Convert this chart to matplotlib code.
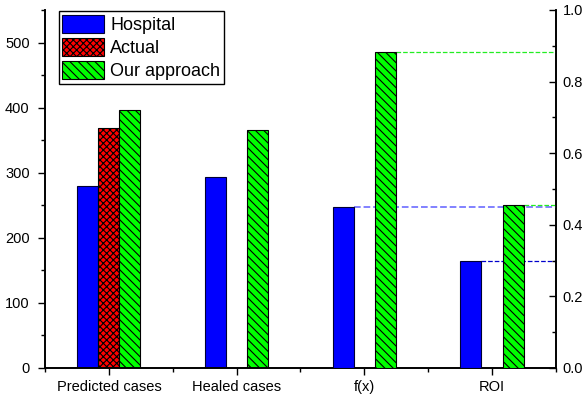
import numpy as np
import matplotlib.pyplot as plt
from matplotlib.ticker import MultipleLocator

plt.rcParams['font.family'] = ['Liberation Sans', 'DejaVu Sans']
plt.rcParams['hatch.linewidth'] = 0.8

categories = ['Predicted cases', 'Healed cases', 'f(x)', 'ROI']

# case counts (left axis)
hospital_cases = [280, 294]
actual_cases = [369]
approach_cases = [397, 366]

# ratio metrics (right axis)
hospital_ratio = [0.451, 0.299]
approach_ratio = [0.883, 0.455]

w = 0.165
x = np.arange(len(categories))

fig, ax = plt.subplots(figsize=(5.87, 3.99), dpi=100)
fig.subplots_adjust(left=0.0767, right=0.947, bottom=0.0777, top=0.975)
ax2 = ax.twinx()

# left axis bars
h1 = ax.bar(x[:2] - w, hospital_cases, w, color='#0000ff', edgecolor='#000033', linewidth=0.8)
h2 = ax.bar(x[:1], actual_cases, w, color='#ff0000', edgecolor='black', linewidth=0.8, hatch='xxxxx')
h3 = ax.bar(x[:2] + w, approach_cases, w, color='#00ff00', edgecolor='black', linewidth=0.8, hatch='\\\\\\\\')

# right axis bars
ax2.bar(x[2:] - w, hospital_ratio, w, color='#0000ff', edgecolor='#000033', linewidth=0.8, zorder=3)
ax2.bar(x[2:] + w, approach_ratio, w, color='#00ff00', edgecolor='black', linewidth=0.8, hatch='\\\\\\\\', zorder=3)

# guide lines from the bar tops to the right axis
xr = len(categories) - 0.5
ax2.plot([x[2] - w / 2, xr], [hospital_ratio[0]] * 2, ls='--', color='#7777ff', lw=1.3, zorder=1)
ax2.plot([x[2] + 1.5 * w, xr], [approach_ratio[0]] * 2, ls='--', color='#22ee22', lw=0.9, zorder=1)
ax2.plot([x[3] - w / 2, xr], [hospital_ratio[1]] * 2, ls='--', color='#0000cc', lw=0.9, zorder=1)
ax2.plot([x[3] + 1.5 * w, xr], [approach_ratio[1]] * 2, ls='--', color='#22ee22', lw=0.9, zorder=1)

ax.set_xlim(-0.5, xr)
ax.set_ylim(0, 550)
ax2.set_ylim(0, 1.0)

ax.set_xticks(x)
ax.set_xticklabels(categories, fontsize=10.5)
ax.set_xticks(np.arange(-0.5, len(categories), 1.0), minor=True)
ax.yaxis.set_major_locator(MultipleLocator(100))
ax.yaxis.set_minor_locator(MultipleLocator(50))
ax2.yaxis.set_major_locator(MultipleLocator(0.2))
ax2.yaxis.set_minor_locator(MultipleLocator(0.1))

ax.tick_params(axis='both', which='major', direction='out', length=5, width=1, labelsize=10.5)
ax.tick_params(axis='y', which='major', pad=6)
ax.tick_params(axis='both', which='minor', direction='out', length=3, width=1)
ax2.tick_params(axis='y', which='major', direction='in', length=5, width=1, labelsize=10.5, pad=5)
ax2.tick_params(axis='y', which='minor', direction='in', length=3, width=1)

for a in (ax, ax2):
    a.spines['top'].set_visible(False)
    for s in ('left', 'right', 'bottom'):
        a.spines[s].set_linewidth(1.2)

leg = ax.legend([h1, h2, h3], ['Hospital', 'Actual', 'Our approach'],
                loc='upper left', bbox_to_anchor=(0.027, 0.997), fontsize=13,
                fancybox=False, edgecolor='black', framealpha=1,
                handlelength=2.3, handleheight=1.2, labelspacing=0.2,
                handletextpad=0.35, borderpad=0.2, borderaxespad=0.0)
leg.get_frame().set_linewidth(1.0)

fig.savefig('out.png', dpi=100)
